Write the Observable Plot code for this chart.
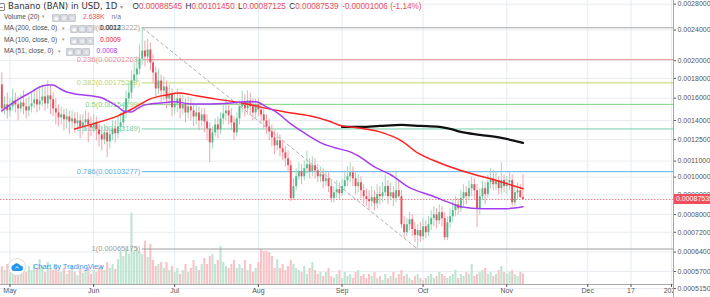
<!DOCTYPE html>
<html><head><meta charset="utf-8">
<script src="https://cdn.jsdelivr.net/npm/d3@7"></script>
<script src="https://cdn.jsdelivr.net/npm/@observablehq/plot@0.6"></script>
<style>
html,body{margin:0;padding:0;background:#fff}
#wrap{position:relative;width:710px;height:297px;overflow:hidden;font-family:"Liberation Sans",Arial,sans-serif}
#layers svg{position:absolute;left:0;top:0}
.abs{position:absolute;white-space:nowrap;line-height:1}
.ico{position:absolute;width:6px;height:6px;background:#d7d9de;border:1px solid #c6c9cf;border-radius:1px;color:#fff;font-size:5px;line-height:6px;text-align:center;overflow:hidden}
</style></head>
<body><div id="wrap"><div id="layers"></div></div>
<script>
// ---- data (prices in micro-USD, i.e. 1e-6 USD; volume in thousands) ----
const firstDay = "2019-04-28";
const openP = [1731,1501,1537,1483,1519,1574,1537,1501,1555,1519,
 1483,1519,1546,1584,1537,1574,1612,1546,1622,1584,
 1501,1465,1423,1448,1406,1431,1389,1414,1373,1397,
 1348,1381,1406,1364,1340,1381,1325,1286,1248,1301,
 1234,1286,1332,1294,1348,1381,1465,1593,1650,1772,
 1836,1903,2020,2118,2044,2131,1972,1858,1690,1772,
 1670,1710,1593,1631,1510,1546,1593,1501,1537,1465,
 1519,1483,1431,1465,1397,1448,1389,1332,1226,1301,
 1364,1325,1414,1457,1483,1440,1381,1301,1414,1519,
 1565,1501,1574,1519,1465,1537,1492,1448,1397,1348,
 1309,1263,1205,1241,1183,1155,1115,1070,880,945,
 1002,1032,1002,1051,1076,1032,1070,1038,1002,1014,
 973,990,945,880,911,928,906,945,979,1002,
 1026,990,945,967,922,890,875,864,885,853,
 901,890,911,945,890,911,880,922,890,753,
 718,753,776,732,706,727,701,744,718,753,
 781,799,771,809,781,697,762,790,819,848,
 828,880,911,890,933,956,922,828,890,933,
 901,967,990,956,979,933,979,945,967,979,
 858,911,922,885.45];
const highP = [1858,1612,1650,1593,1690,1650,1612,1631,1670,1593,
 1612,1650,1690,1670,1710,1731,1710,1772,1731,1650,
 1593,1537,1519,1501,1501,1483,1483,1465,1465,1448,
 1448,1483,1465,1431,1448,1431,1381,1348,1364,1348,
 1332,1397,1397,1431,1465,1537,1670,1751,1881,1972,
 2044,2195,2432.22,2248,2275,2221,2069,1926,1903,1836,
 1815,1772,1731,1690,1650,1690,1650,1631,1593,1612,
 1593,1555,1537,1519,1501,1501,1448,1381,1348,1414,
 1431,1465,1537,1593,1537,1501,1431,1465,1574,1670,
 1631,1670,1650,1593,1593,1593,1555,1501,1448,1414,
 1364,1317,1301,1286,1241,1197,1169,1102,990,1051,
 1089,1076,1102,1169,1115,1128,1115,1076,1063,1051,
 1038,1026,979,945,979,967,990,1038,1063,1089,
 1063,1026,1014,1002,956,933,922,945,922,956,
 945,967,1014,979,967,945,1038,979,922,790,
 781,809,799,762,753,762,781,771,790,819,
 838,828,848,838,809,790,828,869,890,880,
 922,956,945,979,1002,990,956,933,979,967,
 1014,1051,1038,1026,1002,1089,1014,1002,1026,1014,
 945,967,956,1014.50];
const lowP = [1465,1448,1414,1431,1483,1465,1397,1465,1448,1414,
 1431,1465,1501,1465,1483,1519,1483,1501,1448,1431,
 1364,1348,1364,1317,1332,1286,1332,1301,1317,1255,
 1286,1317,1226,1270,1301,1241,1197,1169,1212,1122,
 1183,1241,1226,1255,1301,1332,1414,1537,1593,1690,
 1751,1836,1949,1926,1972,1881,1751,1612,1631,1555,
 1574,1501,1519,1431,1448,1465,1414,1448,1381,1414,
 1397,1348,1364,1317,1348,1301,1241,1089,1183,1270,
 1255,1286,1364,1397,1364,1317,1241,1270,1364,1465,
 1431,1448,1448,1397,1414,1431,1381,1332,1286,1241,
 1197,1142,1169,1128,1102,1063,1026,864,869,922,
 979,956,979,1014,990,1002,990,967,967,933,
 945,911,858,858,880,869,890,922,945,967,
 945,901,911,880,848,838,819,838,819,828,
 848,858,890,848,869,838,858,880,736,693,
 701,727,701,677,651.75,677,685,693,701,727,
 744,736,753,744,685,685,736,762,790,799,
 809,838,848,869,890,869,740,799,869,848,
 880,933,922,922,901,901,911,901,922,838,
 838,869,880,871.25];
const closeP = [1501,1537,1483,1519,1574,1537,1501,1555,1519,1483,
 1519,1546,1584,1537,1574,1612,1546,1622,1584,1501,
 1465,1423,1448,1406,1431,1389,1414,1373,1397,1348,
 1381,1406,1364,1340,1381,1325,1286,1248,1301,1234,
 1286,1332,1294,1348,1381,1465,1593,1650,1772,1836,
 1903,2020,2118,2044,2131,1972,1858,1690,1772,1670,
 1710,1593,1631,1510,1546,1593,1501,1537,1465,1519,
 1483,1431,1465,1397,1448,1389,1332,1226,1301,1364,
 1325,1414,1457,1483,1440,1381,1301,1414,1519,1565,
 1501,1574,1519,1465,1537,1492,1448,1397,1348,1309,
 1263,1205,1241,1183,1155,1115,1070,880,945,1002,
 1032,1002,1051,1076,1032,1070,1038,1002,1014,973,
 990,945,880,911,928,906,945,979,1002,1026,
 990,945,967,922,890,875,864,885,853,901,
 890,911,945,890,911,880,922,890,753,718,
 753,776,732,706,727,701,744,718,753,781,
 799,771,809,781,697,762,790,819,848,828,
 880,911,890,933,956,922,828,890,933,901,
 967,990,956,979,933,979,945,967,979,858,
 911,922,885.45,875.39];
const volumeK = [4.5,3.5,5,3,4,5.5,3.5,2.5,4,3,
 4.5,3.5,5,4,6.2,4.5,3,5.5,4,3.5,
 5,3,3,4,2.5,3.5,4.5,3,2.2,3.8,
 2.8,3.2,4.2,2.5,3.5,3,4,4.5,3.5,5.5,
 4,5,3.8,6.2,8.2,7,9.2,7.5,17.8,8.2,
 9.2,8,7.5,10.8,6.8,10,6,4.5,5,5.5,
 4,5.5,3.5,4.5,3,4,2.5,3.5,5,3,
 4,6,4.5,3.5,5,6.5,5,7,7.5,5,
 6,9.5,5.5,4.5,4,5,6,4,5,4,
 6,3.5,5,3,4,5.5,8.8,8.3,8.3,8,
 7,4,6.2,4,5,3.5,4.5,6,5,4,
 3.5,3,4.5,2.5,4,5.5,3.5,2.5,3,2,
 3,4,2,1.5,2.5,3.5,1.5,3,2,2.5,
 1.5,3,3.5,2,2.5,1.5,2.5,2,3,1.5,
 2,1,2.5,1.5,2,3,1.5,2.5,3.5,2,
 2.5,1.5,1,2,2.5,1.5,1,1.5,2,2.5,
 1.5,2,3,2.5,2,1.5,2,2.5,3.5,1.5,
 2.5,2,3,2.5,5,2,2.5,3,3.5,4,
 2.5,3,2,2.5,3.5,4.5,3,2.5,3,3.5,
 2.5,2,3,2.638];

const ma51Dates = ["2019-04-28","2019-05-01","2019-05-05","2019-05-09","2019-05-12","2019-05-15","2019-05-17","2019-05-19","2019-05-22","2019-05-25","2019-05-31","2019-06-04","2019-06-07","2019-06-10","2019-06-12","2019-06-15","2019-06-17","2019-06-19","2019-06-22","2019-06-26","2019-07-01","2019-07-07","2019-07-14","2019-07-22","2019-07-27","2019-07-31","2019-08-04","2019-08-07","2019-08-13","2019-08-18","2019-08-25","2019-08-31","2019-09-04","2019-09-07","2019-09-13","2019-09-19","2019-09-26","2019-10-04","2019-10-11","2019-10-15","2019-10-23","2019-10-31","2019-11-07"];
const ma51Values = [1483,1537,1603,1660,1710,1731,1731,1700,1660,1641,1622,1603,1565,1519,1483,1474,1501,1528,1546,1555,1565,1546,1546,1555,1565,1565,1519,1483,1373,1301,1219,1183,1162,1135,1063,1014,939,896,858,838,828,828,838];
const ma100Dates = ["2019-05-25","2019-06-02","2019-06-10","2019-06-16","2019-06-22","2019-06-28","2019-07-03","2019-07-09","2019-07-16","2019-07-26","2019-08-05","2019-08-11","2019-08-20","2019-08-27","2019-09-01","2019-09-04","2019-09-15","2019-09-23","2019-09-29","2019-10-07","2019-10-19","2019-10-26","2019-11-01","2019-11-07"];
const ma100Values = [1332,1381,1440,1510,1593,1631,1650,1622,1593,1555,1501,1474,1440,1397,1356,1348,1309,1241,1155,1089,1020,990,962,933];
const ma200Dates = ["2019-09-01","2019-09-08","2019-09-15","2019-09-23","2019-09-30","2019-10-07","2019-10-11","2019-10-15","2019-10-22","2019-10-30","2019-11-07"];
const ma200Values = [1348,1348,1356,1364,1356,1348,1332,1309,1286,1263,1226];

const fibLevels = [0, 0.236, 0.382, 0.5, 0.618, 0.786, 1];
const fibValues = [0.00243222, 0.00201203, 0.00175208, 0.00154199, 0.00133189, 0.00103277, 0.00065175];
const fibHighDate = "2019-06-19", fibLowDate = "2019-09-29";

const yTickValues = [0.0028, 0.0024, 0.002, 0.0018, 0.0016, 0.0014, 0.00125, 0.0011, 0.001, 0.0009, 0.0008, 0.00072, 0.00064, 0.00057, 0.000515];
const xTickDays = ["2019-05-01","2019-06-01","2019-07-01","2019-08-01","2019-09-01","2019-10-01","2019-11-01","2019-12-01","2019-12-17","2020-01-01"];
const xTickLabels = ["May","Jun","Jul","Aug","Sep","Oct","Nov","Dec","17","2020"];

// ---- styling / layout ----
const fibColors = ["#a6a6a6", "#ee8f8f", "#bfd46a", "#7dd47d", "#72cfa9", "#5aaee6", "#9e9e9e"];
const UP = "#53b987", DOWN = "#eb4d5c", WICK_UP = "#9fd8bd", WICK_DOWN = "#f4a3aa";
const VOL_UP = "#bfe4d1", VOL_DOWN = "#f8c3c7";
const W = 710, H = 297, MR = 37, MB = 13;
const xDomain = [new Date("2019-04-27T12:00Z"), new Date("2020-01-01T18:00Z")];
const yDomain = [0.00052769, 0.0028611];

const day0 = new Date(firstDay + "T00:00Z");
const candles = closeP.map((c, i) => ({
  date: d3.utcDay.offset(day0, i),
  o: openP[i] / 1e6, h: highP[i] / 1e6, l: lowP[i] / 1e6, c: c / 1e6, v: volumeK[i]
}));
candles.forEach(d => d.up = d.c >= d.o);
const toLine = (ds, vs) => ds.map((d, i) => ({date: new Date(d + "T00:00Z"), v: vs[i] / 1e6}));
const ma51 = toLine(ma51Dates, ma51Values), ma100 = toLine(ma100Dates, ma100Values), ma200 = toLine(ma200Dates, ma200Values);
const fibEnd = xDomain[1];
const fib = fibLevels.map((lv, i) => ({level: lv, value: fibValues[i], color: fibColors[i], x1: new Date(fibHighDate + "T00:00Z"), x2: fibEnd}));
const fibDiag = [{date: new Date(fibHighDate + "T00:00Z"), v: fibValues[0]}, {date: new Date(fibLowDate + "T00:00Z"), v: fibValues[fibValues.length - 1]}];
const xTicks = xTickDays.map(d => new Date(d + "T00:00Z"));
const labelOf = new Map(xTicks.map((d, i) => [+d, xTickLabels[i]]));
const last = candles[candles.length - 1];

const base = {
  width: W, height: H, marginLeft: 0, marginRight: MR, marginTop: 0, marginBottom: MB,
  style: {background: "transparent", fontFamily: "'Liberation Sans', Arial, sans-serif", overflow: "visible"}
};
const svgNS = "http://www.w3.org/2000/svg";
function el(tag, attrs) { const e = document.createElementNS(svgNS, tag); for (const k in attrs) e.setAttribute(k, attrs[k]); return e; }

// layer 1: grid
const gridPlot = Plot.plot({...base,
  x: {type: "utc", domain: xDomain, axis: null},
  y: {type: "log", domain: yDomain, axis: null},
  marks: [
    Plot.gridY({ticks: yTickValues, stroke: "#e8ecf0", strokeOpacity: 1}),
    Plot.gridX({ticks: xTicks, stroke: "#e4ecf4", strokeOpacity: 1})
  ]
});
// layer 2: volume
const volPlot = Plot.plot({...base, marginTop: 212,
  x: {type: "utc", domain: xDomain, axis: null},
  y: {domain: [0, 18], axis: null},
  color: {type: "identity"},
  marks: [
    Plot.ruleX(candles, {x: "date", y1: 0, y2: "v", stroke: d => d.up ? VOL_UP : VOL_DOWN, strokeWidth: 2.1})
  ]
});
// layer 3: price
const mainPlot = Plot.plot({...base,
  x: {type: "utc", domain: xDomain},
  y: {type: "log", domain: yDomain},
  color: {type: "identity"},
  marks: [
    Plot.ruleY(fib, {y: "value", x1: "x1", x2: "x2", stroke: "color", strokeWidth: 1}),
    Plot.text(fib, {x: "x1", y: "value", text: d => `${d.level}(${d.value.toFixed(8)})`, textAnchor: "end", dx: -2, fill: "color", fontSize: 7.5}),
    Plot.line(fibDiag, {x: "date", y: "v", stroke: "#b0b0b0", strokeWidth: 1, strokeDasharray: "3,3"}),
    Plot.ruleY([last.c], {stroke: "#ef5b68", strokeWidth: 0.8, strokeDasharray: "1.5,1.5"}),
    Plot.ruleX(candles, {x: "date", y1: "l", y2: "h", stroke: d => d.up ? WICK_UP : WICK_DOWN, strokeWidth: 1}),
    Plot.ruleX(candles, {x: "date", y1: "o", y2: "c", stroke: d => d.up ? UP : DOWN, strokeWidth: 1.9}),
    Plot.line(ma200, {x: "date", y: "v", stroke: "#111", strokeWidth: 2.2, curve: "monotone-x"}),
    Plot.line(ma100, {x: "date", y: "v", stroke: "#ff1f1f", strokeWidth: 1.5, curve: "monotone-x"}),
    Plot.line(ma51, {x: "date", y: "v", stroke: "#a63cf2", strokeWidth: 1.5, curve: "monotone-x"}),
    Plot.ruleY([yDomain[0]], {stroke: "#a8a8a8"}),
    Plot.axisX({ticks: xTicks, tickFormat: d => labelOf.get(+d), tickSize: 3, tickPadding: 1, fontSize: 7, color: "#555", label: null}),
    (index, scales, values, dims) => el("rect", {x: dims.width - dims.marginRight, y: 0, width: dims.marginRight, height: dims.height, fill: "#fff"}),
    Plot.axisY({ticks: yTickValues, anchor: "right", tickFormat: d => d.toFixed(8), tickSize: 2, tickPadding: 2, fontSize: 7, color: "#555", label: null}),
    (index, scales, values, dims) => el("line", {x1: dims.width - dims.marginRight + 0.5, x2: dims.width - dims.marginRight + 0.5, y1: 0, y2: dims.height, stroke: "#a8a8a8"})
  ]
});
const layers = document.getElementById("layers");
[gridPlot, volPlot, mainPlot].forEach(p => layers.appendChild(p));

// ---- overlay texts ----
const wrap = document.getElementById("wrap");
function add(html, left, top, css) {
  const d = document.createElement("div");
  d.className = "abs"; d.innerHTML = html;
  d.style.left = left + "px"; d.style.top = top + "px";
  Object.assign(d.style, css || {});
  wrap.appendChild(d); return d;
}
function icons(left, top) {
  ["&#9673;", "&#9881;", "&#10005;"].forEach((g, i) => {
    const d = document.createElement("div");
    d.className = "ico"; d.innerHTML = g;
    d.style.left = (left + i * 8) + "px"; d.style.top = top + "px";
    wrap.appendChild(d);
  });
}
const red = "#eb4d5c";
// last-price badge on the price axis, placed through the plot's own y scale
const yPos = mainPlot.scale("y").apply(last.c);
add(last.c.toFixed(8), W - MR + 1, yPos - 5,
  {height: "10px", width: (MR - 1) + "px", background: "#ef4f5d", color: "#fff", fontSize: "7px", lineHeight: "10px", paddingLeft: "2px", boxSizing: "border-box"});
// header
add("", -3, 3, {width: "6px", height: "6px", border: "1px solid #8a8a8a", borderRadius: "1px"});
add("", -1, 6.5, {width: "4px", height: "1px", background: "#8a8a8a"});
add("Banano (BAN) in USD, 1D", 8, 2.4, {fontFamily: "'DejaVu Sans', sans-serif", fontSize: "8.6px", color: "#333"});
add("&#9662;", 120, 3.5, {fontSize: "6px", color: "#999"});
const chg = last.c - last.o, pct = chg / last.o * 100;
const parts = [["O", last.o.toFixed(8)], ["H", last.h.toFixed(8)], ["L", last.l.toFixed(8)], ["C", last.c.toFixed(8)], ["", chg.toFixed(8) + " (" + pct.toFixed(2) + "%)"]];
add(parts.map(([k, v]) => `<span style="margin-right:3.4px;color:#333">${k}<span style="color:${red}">${v}</span></span>`).join(""), 132.5, 2.8, {fontSize: "8.2px"});
// legend rows
const legCss = {fontSize: "6.6px", color: "#4d4d4d"};
add("Volume (20)", 4, 13.7, legCss); add("&#9662;", 42, 14, {fontSize: "5px", color: "#999"}); icons(52, 13.5);
add((last.v).toFixed(3) + "K", 83, 13.6, {fontSize: "6.8px", color: red});
add("n/a", 111.5, 13.6, {fontSize: "6.8px", color: "#777"});
const ma200Last = ma200Values[ma200Values.length - 1] / 1e6, ma100Last = ma100Values[ma100Values.length - 1] / 1e6, ma51Last = ma51Values[ma51Values.length - 1] / 1e6;
add("MA (200, close, 0)", 4, 25.4, legCss); add("&#9662;", 61.5, 25.7, {fontSize: "5px", color: "#999"}); icons(70, 25.2);
add(ma200Last.toFixed(4), 100, 25.3, {fontSize: "6.8px", color: "#111"});
add("MA (100, close, 0)", 4, 36.9, legCss); add("&#9662;", 61.5, 37.2, {fontSize: "5px", color: "#999"}); icons(70, 36.7);
add(ma100Last.toFixed(4), 100, 36.8, {fontSize: "6.8px", color: "#f01818"});
add("MA (51, close, 0)", 4, 48.3, legCss); add("&#9662;", 57.5, 48.6, {fontSize: "5px", color: "#999"}); icons(66, 48.1);
add(ma51Last.toFixed(4), 96.5, 48.2, {fontSize: "6.8px", color: "#a63cf2"});
// watermark
add('<svg width="12" height="8" viewBox="0 0 12 8"><path d="M3 8 A3 3 0 0 1 2.6 2.1 A3.6 3.6 0 0 1 9.2 2.6 A2.7 2.7 0 0 1 9.3 8 Z" fill="#2196f3"/><path d="M4.3 5.2 L6 3.6 L7.7 5.2" stroke="#fff" stroke-width="0.9" fill="none"/></svg>', 8, 258,
  {width: "18px", height: "18px", borderRadius: "50%", background: "#fff", border: "1px solid #dcdcdc", display: "flex", alignItems: "center", justifyContent: "center", boxSizing: "border-box"});
add("Chart by TradingView", 33, 263.3, {fontSize: "7.4px", color: "#2f9bef"});
</script></body></html>
